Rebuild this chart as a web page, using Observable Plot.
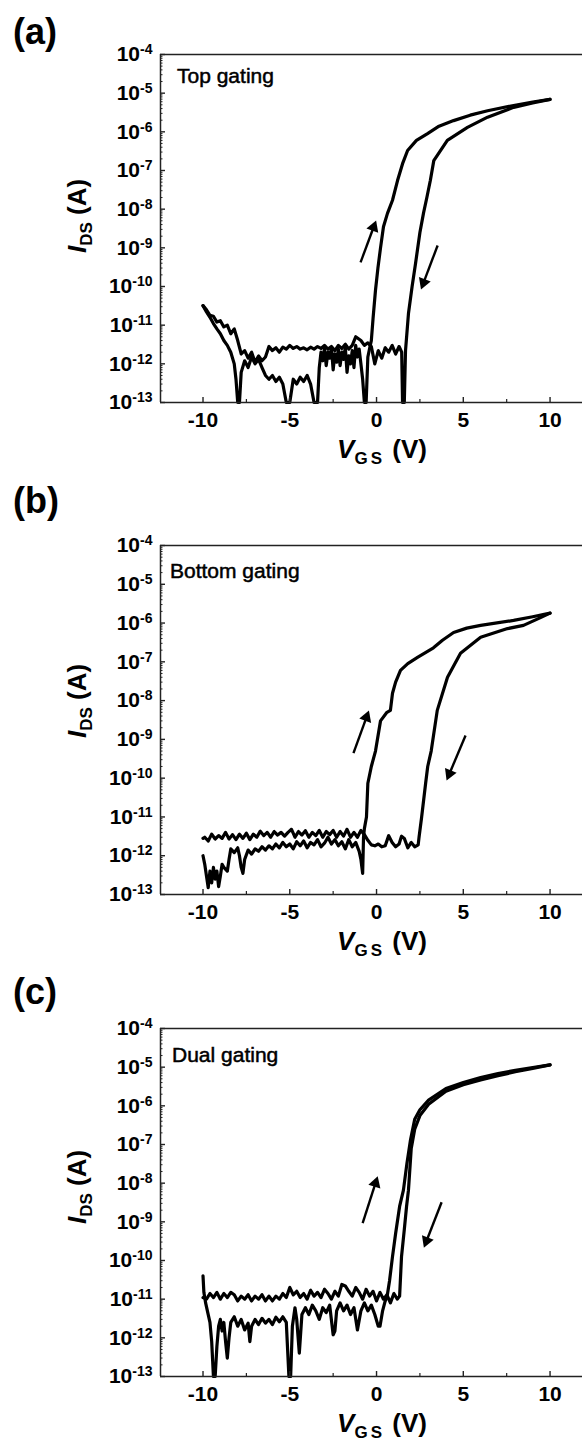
<!DOCTYPE html>
<html><head><meta charset="utf-8">
<script src="https://cdn.jsdelivr.net/npm/d3@7"></script>
<script src="https://cdn.jsdelivr.net/npm/@observablehq/plot@0.6"></script>
<style>
html,body{margin:0;padding:0;background:#fff;overflow:hidden}
#fig{position:relative;width:582px;height:1441px;font-family:Arial,"Liberation Sans",sans-serif}
#fig svg{position:absolute;left:0}
</style></head><body><div id="fig"></div>
<script>
// ---------- DATA: [V_GS (V), I_DS (A)] ----------
const topForward = [[-10.0,3.2e-11],[-9.8,2.2e-11],[-9.6,1.6e-11],[-9.4,1.1e-11],[-9.2,8e-12],[-9.0,6e-12],[-8.8,4e-12],[-8.6,3e-12],[-8.4,2e-12],[-8.2,1e-12],[-8.1,4e-13],[-8.0,1e-13],[-7.9,1e-13],[-7.8,6e-13],[-7.6,1.2e-12],[-7.4,8e-13],[-7.2,1.5e-12],[-7.0,1e-12],[-6.8,1.3e-12],[-6.6,8e-13],[-6.4,5e-13],[-6.2,4e-13],[-6.0,5e-13],[-5.8,3.5e-13],[-5.6,4.5e-13],[-5.4,3e-13],[-5.2,1e-13],[-5.0,1e-13],[-4.8,4e-13],[-4.6,3e-13],[-4.4,4.5e-13],[-4.2,3.5e-13],[-4.0,5e-13],[-3.8,3e-13],[-3.6,1e-13],[-3.4,1e-13],[-3.3,8e-13],[-3.2,2e-12],[-3.1,1.2e-12],[-3.0,2.5e-12],[-2.9,9e-13],[-2.8,2e-12],[-2.7,1.4e-12],[-2.6,2.6e-12],[-2.5,7e-13],[-2.4,1.8e-12],[-2.3,1.1e-12],[-2.2,2.4e-12],[-2.1,9e-13],[-2.0,2e-12],[-1.9,1.3e-12],[-1.8,2.7e-12],[-1.7,6e-13],[-1.6,1.6e-12],[-1.5,1e-12],[-1.4,2.2e-12],[-1.3,8e-13],[-1.2,3e-12],[-1.1,1.5e-12],[-1.0,2.4e-12],[-0.9,1e-12],[-0.8,4e-13],[-0.7,1e-13],[-0.6,1e-13],[-0.5,1.5e-12],[-0.4,2.5e-12],[-0.3,4e-12],[-0.2,1.5e-11],[-0.06,8e-11],[0.08,3e-10],[0.23,1e-9],[0.4,3.5e-9],[0.63,7.8e-9],[0.92,1.7e-8],[1.21,5.5e-8],[1.5,1.5e-7],[1.79,3.3e-7],[2.3,6e-7],[2.94,9e-7],[3.6,1.4e-6],[4.44,1.95e-6],[5.4,2.7e-6],[6.4,3.5e-6],[7.9,4.8e-6],[9.0,5.9e-6],[10.0,6.9e-6]];
const topBackward = [[10.0,6.9e-6],[9.0,5.6e-6],[7.9,4.3e-6],[6.4,2.4e-6],[5.24,1.3e-6],[4.08,6e-7],[3.3,1.8e-7],[3.1,5.5e-8],[2.9,2e-8],[2.71,8e-9],[2.5,2.5e-9],[2.25,4e-10],[2.05,1e-10],[1.84,2e-11],[1.67,2.2e-12],[1.6,1e-13],[1.5,1e-13],[1.45,2e-12],[1.3,2.8e-12],[1.1,1.8e-12],[0.9,3e-12],[0.7,2e-12],[0.5,2.6e-12],[0.3,1.4e-12],[0.1,2.2e-12],[-0.1,1e-12],[-0.3,2.8e-12],[-0.5,3.5e-12],[-0.7,3e-12],[-0.9,4e-12],[-1.2,5e-12],[-1.4,3e-12],[-1.6,2.4e-12],[-1.8,3.2e-12],[-2.0,2.5e-12],[-2.2,3e-12],[-2.4,2.2e-12],[-2.6,2.8e-12],[-2.8,2.4e-12],[-3.0,3e-12],[-3.2,2.5e-12],[-3.4,2.8e-12],[-3.6,2.4e-12],[-3.8,2.7e-12],[-4.0,2.3e-12],[-4.2,2.6e-12],[-4.4,2.4e-12],[-4.6,2.8e-12],[-4.8,2.5e-12],[-5.0,3e-12],[-5.2,2.4e-12],[-5.4,2.7e-12],[-5.6,2e-12],[-5.8,2.6e-12],[-6.0,2.2e-12],[-6.2,2.8e-12],[-6.4,1.5e-12],[-6.6,1.2e-12],[-6.8,1.6e-12],[-7.0,1.1e-12],[-7.2,2e-12],[-7.4,1.4e-12],[-7.6,2.2e-12],[-7.8,1.8e-12],[-8.0,4e-12],[-8.2,8e-12],[-8.4,6e-12],[-8.6,1e-11],[-8.8,9e-12],[-9.0,1.3e-11],[-9.2,1.2e-11],[-9.4,1.7e-11],[-9.6,1.8e-11],[-9.8,2.5e-11],[-10.0,3.2e-11]];

const bottomForward = [[-10.0,1e-12],[-9.9,6e-13],[-9.8,3e-13],[-9.7,1.5e-13],[-9.6,4e-13],[-9.5,2e-13],[-9.4,5e-13],[-9.3,2.5e-13],[-9.2,4e-13],[-9.1,1.6e-13],[-9.0,3e-13],[-8.9,6e-13],[-8.8,5e-13],[-8.6,4e-13],[-8.5,8e-13],[-8.4,1.5e-12],[-8.2,1.2e-12],[-8.0,1.6e-12],[-7.9,1e-12],[-7.8,5e-13],[-7.7,3.5e-13],[-7.6,8e-13],[-7.4,1.4e-12],[-7.2,1.1e-12],[-7.0,1.5e-12],[-6.8,1.3e-12],[-6.6,1.7e-12],[-6.4,1.4e-12],[-6.2,1.8e-12],[-6.0,1.5e-12],[-5.8,2e-12],[-5.6,1.6e-12],[-5.4,2.2e-12],[-5.2,1.7e-12],[-5.0,2e-12],[-4.8,1.5e-12],[-4.6,2.3e-12],[-4.4,1.8e-12],[-4.2,2.4e-12],[-4.0,1.6e-12],[-3.8,2.2e-12],[-3.6,1.9e-12],[-3.4,2.6e-12],[-3.2,1.7e-12],[-3.0,2.1e-12],[-2.8,3e-12],[-2.6,2e-12],[-2.4,2.6e-12],[-2.2,1.8e-12],[-2.0,2.3e-12],[-1.8,1.5e-12],[-1.6,2.6e-12],[-1.4,1.7e-12],[-1.2,2.2e-12],[-1.0,1.3e-12],[-0.9,8e-13],[-0.8,3.5e-13],[-0.75,3e-12],[-0.7,5e-12],[-0.58,1e-11],[-0.5,7.4e-11],[-0.3,2e-10],[-0.06,5e-10],[0.23,3e-9],[0.6,5e-9],[0.8,5.6e-9],[0.92,1.55e-8],[1.1,3e-8],[1.38,6e-8],[1.8,9e-8],[2.36,1.3e-7],[3.28,2.3e-7],[3.8,3.6e-7],[4.44,5.7e-7],[5.2,7.4e-7],[6.0,8.7e-7],[7.9,1.17e-6],[9.0,1.45e-6],[10.0,1.8e-6]];
const bottomBackward = [[10.0,1.8e-6],[9.45,1.38e-6],[8.47,8.7e-7],[7.55,7.2e-7],[6.0,4.3e-7],[4.84,1.66e-7],[4.09,4e-8],[3.5,5.6e-9],[3.15,5e-10],[2.95,2e-10],[2.83,7.4e-11],[2.6,1e-11],[2.45,3e-12],[2.4,1.9e-12],[2.2,1.7e-12],[2.0,2.2e-12],[1.8,1.6e-12],[1.6,2.8e-12],[1.44,3.2e-12],[1.3,2e-12],[1.1,1.7e-12],[0.9,2.2e-12],[0.7,3.3e-12],[0.5,1.8e-12],[0.3,1.7e-12],[0.1,2e-12],[-0.1,1.8e-12],[-0.3,1.9e-12],[-0.5,2.5e-12],[-0.7,3.5e-12],[-0.9,4.5e-12],[-1.1,3e-12],[-1.3,4e-12],[-1.5,3e-12],[-1.7,4.8e-12],[-1.9,3.2e-12],[-2.1,4.2e-12],[-2.3,3e-12],[-2.5,4.5e-12],[-2.7,3.5e-12],[-2.9,4.2e-12],[-3.1,3e-12],[-3.3,4.5e-12],[-3.5,3.3e-12],[-3.7,4e-12],[-3.9,3e-12],[-4.1,4.4e-12],[-4.3,3.4e-12],[-4.5,4.2e-12],[-4.7,3e-12],[-4.9,4.8e-12],[-5.1,4e-12],[-5.3,3.2e-12],[-5.5,4e-12],[-5.7,3.4e-12],[-5.9,4.2e-12],[-6.1,3e-12],[-6.3,4e-12],[-6.5,3.3e-12],[-6.7,4.3e-12],[-6.9,3e-12],[-7.1,3.6e-12],[-7.3,2.6e-12],[-7.5,3.8e-12],[-7.7,2.8e-12],[-7.9,3.6e-12],[-8.1,2.6e-12],[-8.3,3.5e-12],[-8.5,2.7e-12],[-8.7,4e-12],[-8.9,2.8e-12],[-9.1,3.3e-12],[-9.3,2.7e-12],[-9.5,3.6e-12],[-9.7,2.4e-12],[-9.9,3e-12],[-10.0,2.8e-12]];

const dualForward = [[-10.0,4e-11],[-9.95,1.5e-11],[-9.85,8e-12],[-9.7,4e-12],[-9.6,2.5e-12],[-9.5,8e-13],[-9.4,1e-13],[-9.3,1e-13],[-9.2,6e-13],[-9.1,2e-12],[-9.0,3e-12],[-8.9,1.5e-12],[-8.8,2.5e-12],[-8.7,8e-13],[-8.6,3e-13],[-8.5,1e-12],[-8.4,2.5e-12],[-8.2,3.5e-12],[-8.0,2e-12],[-7.8,3e-12],[-7.6,1.6e-12],[-7.4,2.4e-12],[-7.3,8e-13],[-7.2,2e-12],[-7.0,3e-12],[-6.8,2.2e-12],[-6.6,3.2e-12],[-6.4,2.4e-12],[-6.2,3e-12],[-6.0,2.2e-12],[-5.8,3.4e-12],[-5.6,2.6e-12],[-5.4,3.5e-12],[-5.2,2.5e-12],[-5.05,1e-13],[-4.95,1e-13],[-4.85,2e-12],[-4.7,6e-12],[-4.6,3e-12],[-4.45,4e-13],[-4.3,4e-12],[-4.1,6e-12],[-3.9,4e-12],[-3.7,7e-12],[-3.5,5e-12],[-3.3,3e-12],[-3.1,6e-12],[-2.9,4.5e-12],[-2.7,7e-12],[-2.5,1.2e-12],[-2.4,1.5e-12],[-2.3,5e-12],[-2.1,8e-12],[-1.9,5e-12],[-1.7,7e-12],[-1.5,4e-12],[-1.3,6e-12],[-1.1,1.6e-12],[-0.9,5e-12],[-0.7,8e-12],[-0.5,5e-12],[-0.3,7e-12],[-0.1,4e-12],[0.1,2e-12],[0.2,2e-12],[0.35,5e-12],[0.5,9e-12],[0.6,1.1e-11],[0.75,3e-11],[0.92,1.26e-10],[1.1,5e-10],[1.33,2.5e-9],[1.55,6.6e-9],[1.75,3.2e-8],[1.95,1.26e-7],[2.2,4.5e-7],[2.5,7.9e-7],[3.0,1.4e-6],[4.0,2.8e-6],[5.0,4e-6],[6.0,5.4e-6],[7.0,6.8e-6],[8.0,8.3e-6],[9.0,9.8e-6],[10.0,1.15e-5]];
const dualBackward = [[10.0,1.15e-5],[9.0,9.3e-6],[8.0,7.6e-6],[7.0,6e-6],[6.0,4.7e-6],[5.0,3.5e-6],[4.0,2.4e-6],[3.0,1.1e-6],[2.5,5.6e-7],[2.2,2.5e-7],[2.0,7.9e-8],[1.84,6.6e-9],[1.73,2.5e-9],[1.6,6.3e-10],[1.44,1.26e-10],[1.33,1.2e-11],[1.2,1e-11],[1.0,1.4e-11],[0.8,8e-12],[0.6,1.3e-11],[0.4,1e-11],[0.2,1.5e-11],[0.0,9e-12],[-0.2,1.6e-11],[-0.4,1.2e-11],[-0.6,1.8e-11],[-0.8,1e-11],[-1.0,1.5e-11],[-1.2,2e-11],[-1.4,1.2e-11],[-1.6,1.6e-11],[-1.8,2.2e-11],[-2.0,2.4e-11],[-2.2,1.2e-11],[-2.4,1.6e-11],[-2.6,1e-11],[-2.8,1.4e-11],[-3.0,1.8e-11],[-3.2,1.1e-11],[-3.4,1.5e-11],[-3.6,1.2e-11],[-3.8,1.7e-11],[-4.0,1e-11],[-4.2,1.4e-11],[-4.4,1.1e-11],[-4.6,1.6e-11],[-4.8,1.3e-11],[-5.0,2e-11],[-5.2,1.1e-11],[-5.4,1.4e-11],[-5.6,1e-11],[-5.8,1.2e-11],[-6.0,9e-12],[-6.2,1.2e-11],[-6.4,9e-12],[-6.6,1.3e-11],[-6.8,1e-11],[-7.0,1.2e-11],[-7.2,9e-12],[-7.4,1.3e-11],[-7.6,1e-11],[-7.8,1.2e-11],[-8.0,9e-12],[-8.2,1.3e-11],[-8.4,1.5e-11],[-8.6,1.1e-11],[-8.8,1.4e-11],[-9.0,1e-11],[-9.2,1.5e-11],[-9.4,1.1e-11],[-9.6,1.4e-11],[-9.8,1e-11],[-10.0,1.1e-11]];

// sweep-direction arrows: [V start, I start, V end, I end]
const topArrows = [[-0.92,4.2e-10,-0.17,3.4e-9],[3.52,1.15e-9,2.71,1.26e-10]];
const bottomArrows = [[-1.33,4.4e-10,-0.58,3.7e-9],[5.13,1.26e-9,4.2,1.3e-10]];
const dualArrows = [[-0.8,9.3e-10,-0.06,1e-8],[3.75,3.2e-9,2.88,3.2e-10]];

const panelTags = ["(a)","(b)","(c)"];
const panelNames = ["Top gating","Bottom gating","Dual gating"];
const xTicks = [-10,-5,0,5,10];
const xMinor = [-7.5,-2.5,2.5,7.5];
const yDecades = [1e-4,1e-5,1e-6,1e-7,1e-8,1e-9,1e-10,1e-11,1e-12,1e-13];
const xDomain = [-12.45, 11.87];
const yDomain = [1e-13, 1e-4];

// ---------- LAYOUT ----------
const layout = [
  {top:0,   height:480, mt:54, mb:78, tagY:44, nameX:177, nameY:83,  yTitleY:216, xTitleY:458},
  {top:480, height:480, mt:65, mb:66, tagY:33, nameX:170, nameY:98,  yTitleY:221, xTitleY:470},
  {top:960, height:481, mt:68, mb:65, tagY:44, nameX:172, nameY:102, yTitleY:227, xTitleY:472}
];
const series = [[topForward, topBackward, topArrows],[bottomForward, bottomBackward, bottomArrows],[dualForward, dualBackward, dualArrows]];

const W = 582, ML = 160, MR = 0;
const FONT = 'Arial, "Liberation Sans", sans-serif';
const yMinor = d3.scaleLog().domain(yDomain).ticks().filter(t => !yDecades.some(d => Math.abs(t/d - 1) < 1e-6));
const fig = document.getElementById("fig");

layout.forEach((L, k) => {
  const [fwd, bwd, arr] = series[k];
  const frameW = W - ML - MR, frameH = L.height - L.mt - L.mb;
  const kx = frameW / (xDomain[1] - xDomain[0]);
  const ky = frameH / (Math.log10(yDomain[1]) - Math.log10(yDomain[0]));
  const toRows = a => a.map(([v, i]) => ({v, i}));
  const arrows = arr.map(([x1, y1, x2, y2]) => ({
    x1, y1, x2, y2,
    angle: Math.atan2((x2 - x1) * kx, (Math.log10(y2) - Math.log10(y1)) * ky) * 180 / Math.PI
  }));
  const axisStroke = {stroke: "#222", strokeWidth: 1.5};
  const plot = Plot.plot({
    width: W, height: L.height,
    marginLeft: ML, marginRight: MR, marginTop: L.mt, marginBottom: L.mb,
    style: {fontFamily: FONT, color: "#000", background: "transparent", overflow: "visible"},
    x: {domain: xDomain, label: null},
    y: {type: "log", domain: yDomain, label: null},
    marks: [
      Plot.line(toRows(fwd), {x: "v", y: "i", stroke: "#000", strokeWidth: 3.2, strokeLinejoin: "round", strokeLinecap: "round"}),
      Plot.line(toRows(bwd), {x: "v", y: "i", stroke: "#000", strokeWidth: 3.2, strokeLinejoin: "round", strokeLinecap: "round"}),
      Plot.link(arrows, {x1: "x1", y1: "y1", x2: "x2", y2: "y2", stroke: "#000", strokeWidth: 2.4}),
      Plot.dot(arrows, {x: "x2", y: "y2", symbol: "triangle2", r: 6, fill: "#000", stroke: "none", rotate: "angle"}),
      Plot.ruleY(yMinor, {insetRight: frameW - 2.5, stroke: "#222", strokeWidth: 1}),
      Plot.ruleY(yDecades, {insetRight: frameW - 5, stroke: "#222", strokeWidth: 1.4}),
      Plot.ruleX(xMinor, {insetTop: frameH - 3, stroke: "#222", strokeWidth: 1.2}),
      Plot.ruleX(xTicks, {insetTop: frameH - 5, stroke: "#222", strokeWidth: 1.4}),
      Plot.ruleY([yDomain[1]], axisStroke),
      Plot.ruleY([yDomain[0]], axisStroke),
      Plot.ruleX([xDomain[0]], axisStroke),
      Plot.axisY({ticks: yDecades, tickFormat: d => `10^${Math.round(Math.log10(d))}`, tickSize: 0, tickPadding: 8, fontSize: 21, fontWeight: "bold", label: null}),
      Plot.axisX({ticks: xTicks, tickFormat: d => String(d), tickSize: 0, tickPadding: 10, fontSize: 21, fontWeight: "bold", label: null})
    ]
  });
  plot.style.top = L.top + "px";
  const svg = d3.select(plot);
  svg.selectAll('g[aria-label="y-axis tick label"] text').each(function () {
    const [base, exp] = this.textContent.split("^");
    const t = d3.select(this);
    t.text(null);
    t.append("tspan").text(base);
    t.append("tspan").attr("dy", "-0.5em").attr("font-size", "14px").text(exp);
  });
  svg.append("text").attr("x", 13).attr("y", L.tagY).attr("text-anchor", "start").attr("font-family", FONT)
    .attr("font-size", 36).attr("font-weight", "bold").attr("fill", "#000").text(panelTags[k]);
  svg.append("text").attr("x", L.nameX).attr("y", L.nameY).attr("text-anchor", "start").attr("font-family", FONT)
    .attr("font-size", 21).attr("fill", "#000").attr("stroke", "#000").attr("stroke-width", 0.5).text(panelNames[k]);
  const yt = svg.append("text").attr("transform", `translate(86,${L.yTitleY}) rotate(-90)`)
    .attr("text-anchor", "middle").attr("font-family", FONT).attr("font-size", 26).attr("font-weight", "bold").attr("fill", "#000");
  yt.append("tspan").attr("font-style", "italic").text("I");
  yt.append("tspan").attr("font-size", 17).attr("dy", 6).text("DS");
  yt.append("tspan").attr("dy", -6).text(" (A)");
  const xt = svg.append("text").attr("x", 382).attr("y", L.xTitleY)
    .attr("text-anchor", "middle").attr("font-family", FONT).attr("font-size", 26).attr("font-weight", "bold").attr("fill", "#000");
  xt.append("tspan").attr("font-style", "italic").text("V");
  xt.append("tspan").attr("font-size", 17).attr("dy", 6).attr("letter-spacing", 3).text("GS");
  xt.append("tspan").attr("dy", -6).text(" (V)");
  fig.appendChild(plot);
});
</script></body></html>
